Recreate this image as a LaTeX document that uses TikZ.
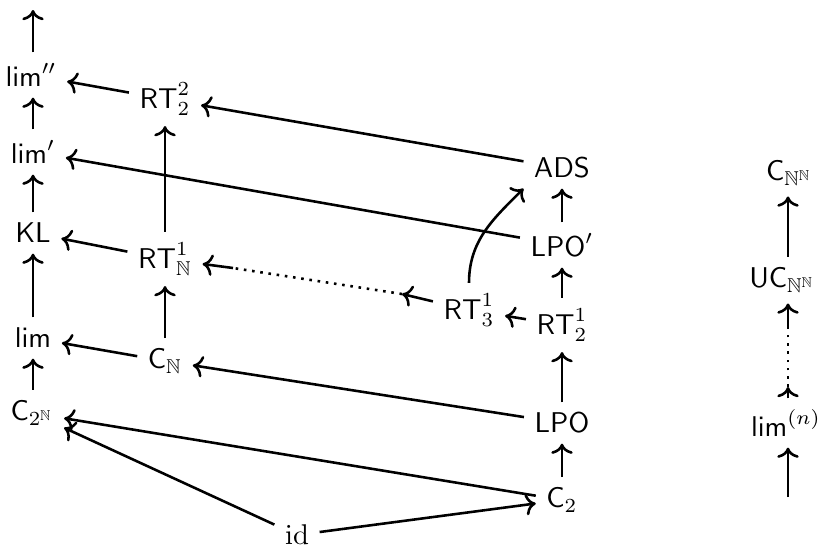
\documentclass[tikz,border=0pt]{standalone}
\usepackage{amssymb}
\usetikzlibrary{arrows.meta}
\begin{document}
\begin{tikzpicture}[x=0.35pt,y=-0.35pt,
  lbl/.style={inner sep=3.3pt, outer sep=0.45pt},
  ar/.style={line width=0.9pt, -{Computer Modern Rightarrow}},
  dotline/.style={line width=0.9pt, dotted}]
\useasboundingbox (0,0) rectangle (822,555);
% column reference coordinates
\coordinate (cL) at (33,0);
\coordinate (cM) at (165,0);
\coordinate (cR) at (562,0);
\coordinate (cF) at (788,0);
% nodes
\node[lbl] (limpp) at (31,75) {$\mathsf{lim}''$};
\node[lbl] (RTtt) at (165,99) {$\mathsf{RT}^2_2$};
\node[lbl] (limp) at (33,152) {$\mathsf{lim}'$};
\node[lbl] (ADS) at (562,168) {$\mathsf{ADS}$};
\node[lbl] (KL) at (33,233) {$\mathsf{KL}$};
\node[lbl] (RTN) at (165,259) {$\mathsf{RT}^1_{\mathbb{N}}$};
\node[lbl] (LPOp) at (562,245) {$\mathsf{LPO}'$};
\node[lbl] (RTth) at (469,310) {$\mathsf{RT}^1_3$};
\node[lbl] (RTtw) at (562,325) {$\mathsf{RT}^1_2$};
\node[lbl] (lim) at (33,338) {$\mathsf{lim}$};
\node[lbl] (CN) at (165,361) {$\mathsf{C}_{\mathbb{N}}$};
\node[lbl] (LPO) at (562,423) {$\mathsf{LPO}$};
\node[lbl] (CtN) at (32,413) {$\mathsf{C}_{2^{\mathbb{N}}}$};
\node[lbl] (Ct) at (562,500) {$\mathsf{C}_2$};
\node[lbl] (id) at (297,535) {$\mathrm{id}$};
\node[lbl] (CNN) at (789,173) {$\mathsf{C}_{\mathbb{N}^{\mathbb{N}}}$};
\node[lbl] (UCNN) at (782,280) {$\mathsf{UC}_{\mathbb{N}^{\mathbb{N}}}$};
\node[lbl] (limn) at (786,423) {$\mathsf{lim}^{(n)}$};
% free ends
\coordinate (top) at (33,10);
\coordinate (bot) at (788,497);
\coordinate (d1) at (402,294);
\coordinate (d2) at (233,268);
\coordinate (u1) at (788,387);
\coordinate (u2) at (788,328);
% left column
\draw[ar] (limpp.north -| cL) -- (top);
\draw[ar] (limp.north -| cL) -- (limpp.south -| cL);
\draw[ar] (KL.north -| cL) -- (limp.south -| cL);
\draw[ar] (lim.north -| cL) -- (KL.south -| cL);
\draw[ar] (CtN.north -| cL) -- (lim.south -| cL);
% middle column
\draw[ar] (RTN.north -| cM) -- (RTtt.south -| cM);
\draw[ar] (CN.north -| cM) -- (RTN.south -| cM);
% right column
\draw[ar] (LPOp.north -| cR) -- (ADS.south -| cR);
\draw[ar] (RTtw.north -| cR) -- (LPOp.south -| cR);
\draw[ar] (LPO.north -| cR) -- (RTtw.south -| cR);
\draw[ar] (Ct.north -| cR) -- (LPO.south -| cR);
% horizontals
\draw[ar] (RTtt) -- (limpp);
\draw[ar] (ADS) -- (RTtt);
\draw[ar] (LPOp) -- (limp);
\draw[ar] (RTN) -- (KL);
\draw[ar] (CN) -- (lim);
\draw[ar] (LPO) -- (CN);
\draw[ar] (Ct) -- (CtN);
\draw[ar] (id) -- (CtN);
\draw[ar] (id) -- (Ct);
\draw[ar] (RTtw) -- (RTth);
\draw[ar] (RTth.north) to[out=90,in=-135] (ADS.south west);
% dotted chain
\draw[ar] (RTth) -- (d1);
\draw[dotline] (d1) -- (d2);
\draw[ar] (d2) -- (RTN);
% far right column
\draw[ar] (UCNN.north -| cF) -- (CNN.south -| cF);
\draw[ar] (limn.north -| cF) -- (u1);
\draw[dotline] (u1) -- (u2);
\draw[ar] (u2) -- (UCNN.south -| cF);
\draw[ar] (bot) -- (limn.south -| cF);
\end{tikzpicture}
\end{document}
